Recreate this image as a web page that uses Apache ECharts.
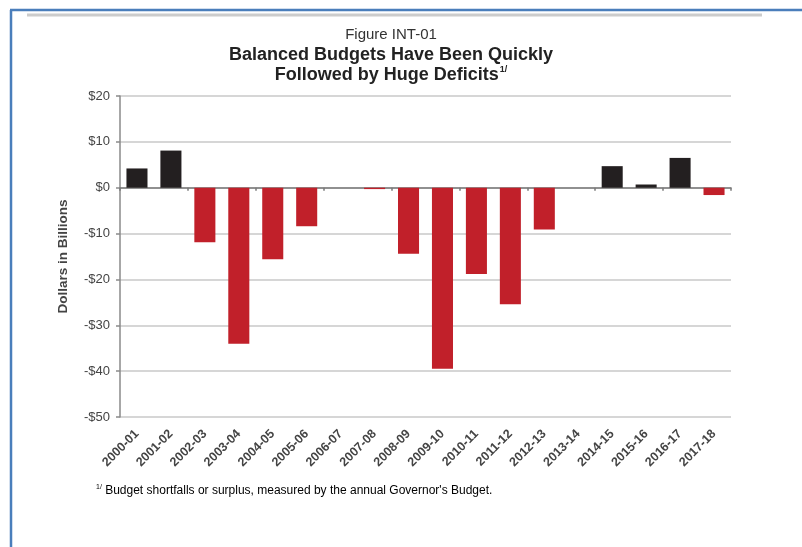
<!DOCTYPE html>
<html>
<head>
    <meta charset="utf-8">
    <title></title>
    <script src="https://cdn.jsdelivr.net/npm/echarts@6/dist/echarts.min.js"></script>
    <style>
        html, body { margin: 0; padding: 0; background: #fff; }
    </style>
</head>
<body>
    <div id="main" style="width: 802px;height:547px;"></div>
    <script type="text/javascript">
// 数据
var years = ['2000-01', '2001-02', '2002-03', '2003-04', '2004-05', '2005-06', '2006-07', '2007-08', '2008-09',
  '2009-10', '2010-11', '2011-12', '2012-13', '2013-14', '2014-15', '2015-16', '2016-17', '2017-18']
var balance = [4.2, 8.1, -11.9, -34.0, -15.6, -8.4, 0, -0.3, -14.4, -39.5, -18.8, -25.4, -9.1, 0, 4.7, 0.7, 6.5, -1.6]
var yTicks = [-50, -40, -30, -20, -10, 0, 10, 20]

var surplusColor = '#231f20'
var deficitColor = '#c1202a'

var myChart = echarts.init(document.getElementById('main'))

var barData = balance.map(function (v) {
  return {
    value: v,
    itemStyle: { color: v >= 0 ? surplusColor : deficitColor }
  }
})

var option = {
  backgroundColor: '#fff',
  animation: false,
  title: {
    left: 386,
    top: 20,
    textAlign: 'center',
    text: '{a|Figure INT-01}\n{b|Balanced Budgets Have Been Quickly}\n{b|Followed by Huge Deficits}{s|1/}',
    textStyle: {
      fontWeight: 'normal',
      rich: {
        a: { fontFamily: 'Liberation Sans', fontSize: 15, fontWeight: 'normal', color: '#333', lineHeight: 20 },
        b: { fontFamily: 'Liberation Sans', fontSize: 18, fontWeight: 'bold', color: '#222', lineHeight: 20 },
        s: { fontFamily: 'Liberation Sans', fontSize: 9, fontWeight: 'bold', color: '#222', verticalAlign: 'top', lineHeight: 20, padding: [0, 0, 8, 1] }
      }
    }
  },
  grid: {
    left: 120,
    right: 71,
    top: 96,
    bottom: 130,
    containLabel: false
  },
  xAxis: [{
    type: 'category',
    data: years,
    axisLine: { onZero: true, lineStyle: { color: '#7a7a7a', width: 1.5 } },
    axisTick: { show: true, length: 3, lineStyle: { color: '#7a7a7a', width: 1.5 } },
    axisLabel: { show: false },
    splitLine: { show: false }
  }, {
    type: 'category',
    data: years,
    position: 'bottom',
    axisLine: { onZero: false, show: false },
    axisTick: { show: false },
    axisLabel: {
      show: true,
      rotate: 45,
      margin: 15,
      interval: 0,
      fontFamily: 'Liberation Sans',
      fontSize: 12.5,
      fontWeight: 'bold',
      color: '#444'
    }
  }],
  yAxis: {
    type: 'value',
    min: yTicks[0],
    max: yTicks[yTicks.length - 1],
    interval: 10,
    name: 'Dollars in Billions',
    nameLocation: 'middle',
    nameGap: 50,
    nameRotate: 90,
    nameTextStyle: {
      fontFamily: 'Liberation Sans',
      fontSize: 13.5,
      fontWeight: 'bold',
      color: '#444'
    },
    axisLine: { show: true, lineStyle: { color: '#8a8a8a', width: 1.5 } },
    axisTick: { show: true, length: 4, lineStyle: { color: '#8a8a8a', width: 1.5 } },
    axisLabel: {
      margin: 10,
      fontFamily: 'Liberation Sans',
      fontSize: 13,
      color: '#444',
      formatter: function (v) {
        return v < 0 ? '-$' + Math.abs(v) : '$' + v
      }
    },
    splitLine: { show: true, lineStyle: { color: '#c9c9c9', width: 1.5 } }
  },
  series: [{
    type: 'bar',
    xAxisIndex: 0,
    data: barData,
    barCategoryGap: '38%',
    itemStyle: { borderRadius: 0 }
  }],
  graphic: [{
    type: 'line',
    shape: { x1: 10, y1: 10, x2: 802, y2: 10 },
    style: { stroke: '#4a7ebb', lineWidth: 2.5 }
  }, {
    type: 'line',
    shape: { x1: 11, y1: 10, x2: 11, y2: 547 },
    style: { stroke: '#4a7ebb', lineWidth: 2.5 }
  }, {
    type: 'line',
    shape: { x1: 27, y1: 15, x2: 762, y2: 15 },
    style: { stroke: '#cccccc', lineWidth: 3 }
  }, {
    type: 'text',
    left: 96,
    top: 484,
    style: {
      text: '{s|1/}{t| Budget shortfalls or surplus, measured by the annual Governor\'s Budget.}',
      rich: {
        s: { fontFamily: 'Liberation Sans', fontSize: 7, color: '#444', verticalAlign: 'top', padding: [0, 0, 6, 0] },
        t: { fontFamily: 'Liberation Sans', fontSize: 12, color: '#444' }
      }
    }
  }]
}

myChart.setOption(option)
    </script>
</body>
</html>
